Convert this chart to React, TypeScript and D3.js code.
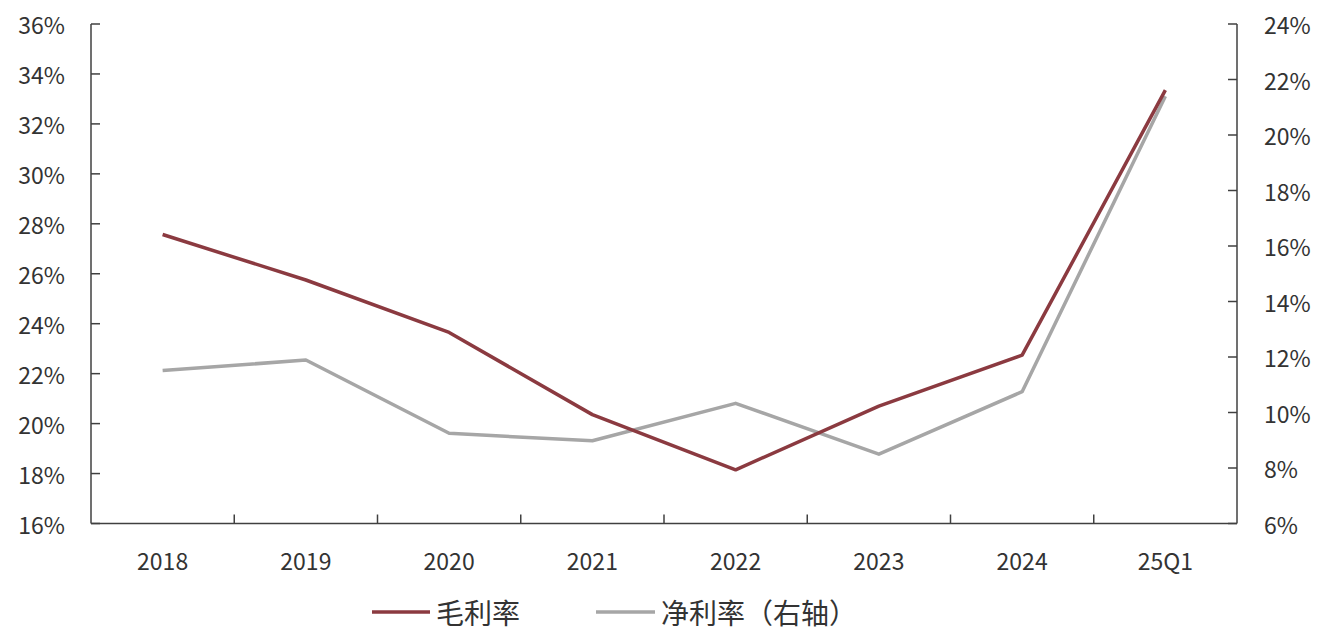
import React from "react";
import * as d3 from "d3";

const categories = ["2018", "2019", "2020", "2021", "2022", "2023", "2024", "25Q1"];
const grossMargin = [27.57, 25.75, 23.65, 20.36, 18.15, 20.7, 22.74, 33.35];
const netMargin = [11.51, 11.89, 9.25, 8.98, 10.33, 8.5, 10.75, 21.4];
const leftTicks = [16, 18, 20, 22, 24, 26, 28, 30, 32, 34, 36];
const rightTicks = [6, 8, 10, 12, 14, 16, 18, 20, 22, 24];
const seriesNames = ["毛利率", "净利率（右轴）"];

const W = 1323;
const H = 636;
const left = 91;
const right = 1237;
const top = 24;
const bottom = 523.5;
const font = "'Noto Sans CJK SC', 'Noto Sans', sans-serif";
const textColor = "#333333";
const axisColor = "#404040";
const redColor = "#8B3A40";
const grayColor = "#A6A6A6";

export default function App() {
  const x = d3.scaleBand<string>().domain(categories).range([left, right]);
  const yL = d3.scaleLinear().domain([16, 36]).range([bottom, top]);
  const yR = d3.scaleLinear().domain([6, 24]).range([bottom, top]);
  const cx = (c: string) => (x(c) as number) + x.bandwidth() / 2;

  const lineL = d3
    .line<number>()
    .x((_, i) => cx(categories[i]))
    .y((d) => yL(d));
  const lineR = d3
    .line<number>()
    .x((_, i) => cx(categories[i]))
    .y((d) => yR(d));

  const bounds = categories.map((c) => x(c) as number).concat([right]);

  return (
    <svg width={W} height={H} style={{ position: "absolute", left: 0, top: 0, background: "#fff" }}>
      <rect x={0} y={0} width={W} height={H} fill="#fff" />
      {/* axes */}
      <line x1={left} x2={left} y1={top} y2={bottom} stroke={axisColor} strokeWidth={1.5} />
      <line x1={right} x2={right} y1={top} y2={bottom} stroke={axisColor} strokeWidth={1.5} />
      <line x1={left} x2={right} y1={bottom} y2={bottom} stroke={axisColor} strokeWidth={1.5} />
      {leftTicks.map((t) => (
        <g key={"l" + t}>
          <line x1={left} x2={left + 9} y1={yL(t)} y2={yL(t)} stroke={axisColor} strokeWidth={1.5} />
          <text
            x={65}
            y={yL(t)}
            textAnchor="end"
            dominantBaseline="central"
            fontFamily={font}
            fontSize={23}
            fill={textColor}
          >
            {t}%
          </text>
        </g>
      ))}
      {rightTicks.map((t) => (
        <g key={"r" + t}>
          <line x1={right - 9} x2={right} y1={yR(t)} y2={yR(t)} stroke={axisColor} strokeWidth={1.5} />
          <text
            x={1264}
            y={yR(t)}
            textAnchor="start"
            dominantBaseline="central"
            fontFamily={font}
            fontSize={23}
            fill={textColor}
          >
            {t}%
          </text>
        </g>
      ))}
      {bounds.slice(1, -1).map((b, i) => (
        <line key={"xt" + i} x1={b} x2={b} y1={bottom} y2={bottom - 9} stroke={axisColor} strokeWidth={1.5} />
      ))}
      {categories.map((c) => (
        <text
          key={c}
          x={cx(c)}
          y={560}
          textAnchor="middle"
          dominantBaseline="central"
          fontFamily={font}
          fontSize={23}
          fill={textColor}
        >
          {c}
        </text>
      ))}
      {/* series */}
      <path d={lineR(netMargin) || ""} fill="none" stroke={grayColor} strokeWidth={3.5} strokeLinejoin="round" />
      <path d={lineL(grossMargin) || ""} fill="none" stroke={redColor} strokeWidth={3.5} strokeLinejoin="round" />
      {/* legend */}
      <line x1={372} x2={430} y1={612} y2={612} stroke={redColor} strokeWidth={3.5} />
      <text x={436} y={612} dominantBaseline="central" fontFamily={font} fontSize={28} fill={textColor}>
        {seriesNames[0]}
      </text>
      <line x1={596} x2={655} y1={612} y2={612} stroke={grayColor} strokeWidth={3.5} />
      <text x={661} y={612} dominantBaseline="central" fontFamily={font} fontSize={28} fill={textColor}>
        {seriesNames[1]}
      </text>
    </svg>
  );
}
